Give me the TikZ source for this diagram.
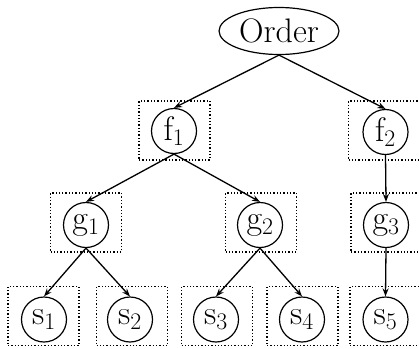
\RequirePackage{fix-cm}
\documentclass[tikz,border=0pt]{standalone}
\usetikzlibrary{shapes.geometric,arrows.meta}
\begin{document}
\begin{tikzpicture}[x=1pt,y=-1pt,
  every node/.style={font=\fontsize{34}{40}\selectfont},
  vert/.style={circle,draw,line width=1.2pt,minimum size=45pt,inner sep=0pt},
  root/.style={ellipse,draw,line width=1.2pt,minimum width=120pt,minimum height=47pt,inner sep=0pt},
  dotbox/.style={draw,line width=1.3pt,dash pattern=on 1.3pt off 2pt,minimum width=71pt,minimum height=59pt,inner sep=0pt},
  edge/.style={line width=1.3pt,-{Stealth[length=8pt,width=6pt]}}]
\useasboundingbox (0,0) rectangle (419,348);
% boxes
\node[dotbox] (bf1) at (174.5,130.5) {};
\node[dotbox] (bf2) at (384,130.5) {};
\node[dotbox] (bg1) at (86,222.5) {};
\node[dotbox] (bg2) at (261,222.5) {};
\node[dotbox] (bg3) at (386.5,222.5) {};
\node[dotbox] (bs1) at (43.5,316) {};
\node[dotbox] (bs2) at (132,316) {};
\node[dotbox] (bs3) at (217,316) {};
\node[dotbox] (bs4) at (302.5,316) {};
\node[dotbox] (bs5) at (385.5,316) {};
% vertices
\node[root] (o) at (279,31) {Order};
\node[vert] (f1) at (174,131) {$\mathrm{f}_1$};
\node[vert] (f2) at (385.5,132) {$\mathrm{f}_2$};
\node[vert] (g1) at (86,225) {$\mathrm{g}_1$};
\node[vert] (g2) at (260,225) {$\mathrm{g}_2$};
\node[vert] (g3) at (386,225) {$\mathrm{g}_3$};
\node[vert] (s1) at (44,319.5) {$\mathrm{s}_1$};
\node[vert] (s2) at (130,319.5) {$\mathrm{s}_2$};
\node[vert] (s3) at (216,319.5) {$\mathrm{s}_3$};
\node[vert] (s4) at (302,319.5) {$\mathrm{s}_4$};
\node[vert] (s5) at (385.5,319.5) {$\mathrm{s}_5$};
% edges
\draw[edge] (o.south) -- (f1.north);
\draw[edge] (o.south) -- (f2.north);
\draw[edge] (f1.south) -- (g1.north);
\draw[edge] (f1.south) -- (g2.north);
\draw[edge] (f2.south) -- (g3.north);
\draw[edge] (g1.south) -- (s1.north);
\draw[edge] (g1.south) -- (s2.north);
\draw[edge] (g2.south) -- (s3.north);
\draw[edge] (g2.south) -- (s4.north);
\draw[edge] (g3.south) -- (s5.north);
\end{tikzpicture}
\end{document}
